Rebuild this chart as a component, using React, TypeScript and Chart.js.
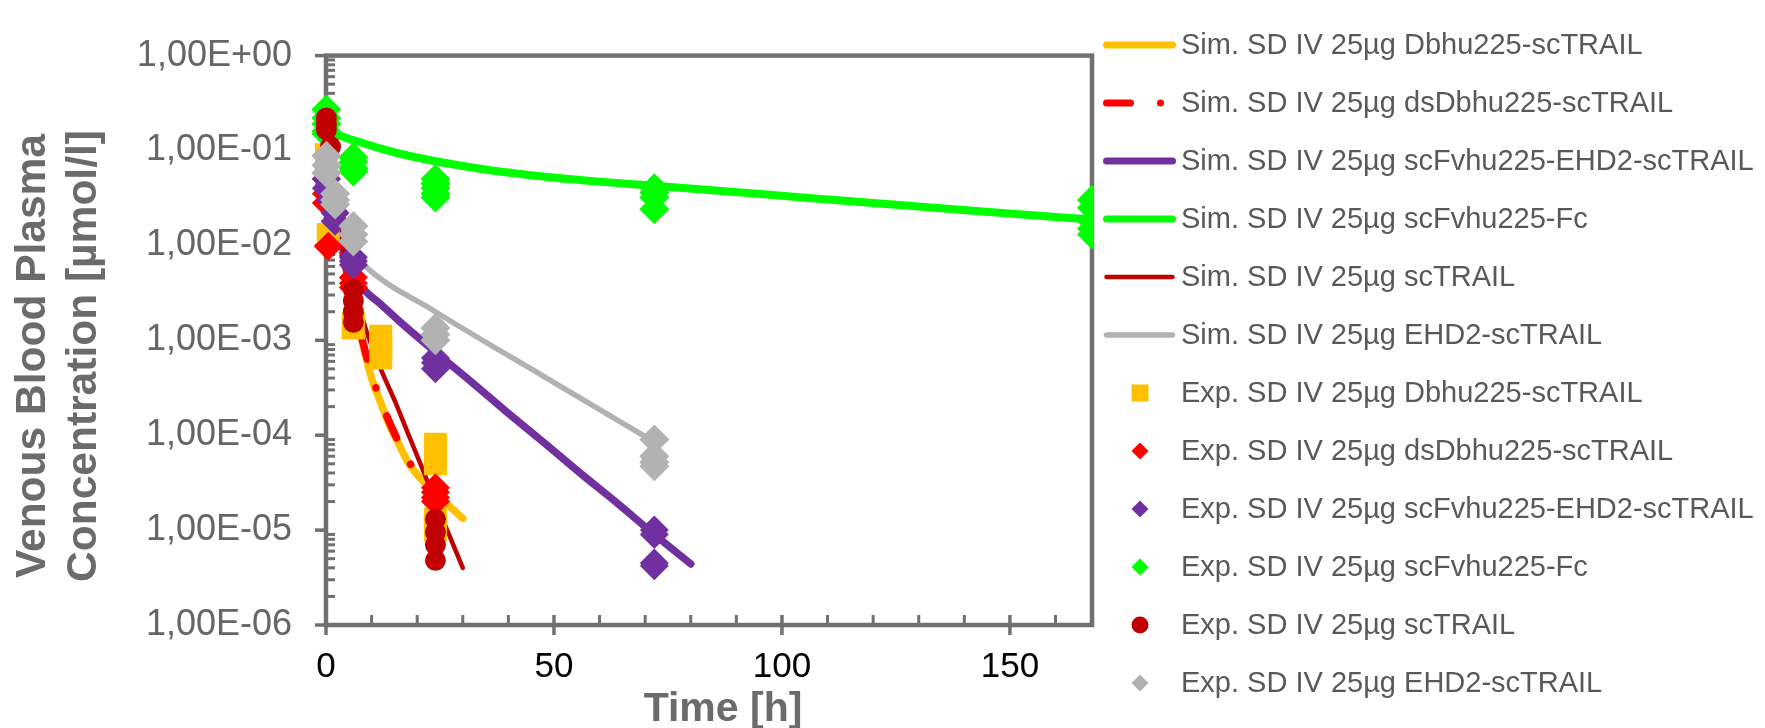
import React, { useEffect, useRef } from 'react';
import { Chart, registerables } from 'chart.js';

Chart.register(...registerables);

const FONT = '"Liberation Sans", Arial, Helvetica, sans-serif';

// ---------- labels ----------
const seriesLabels = [
  'Sim. SD IV 25µg Dbhu225-scTRAIL',
  'Sim. SD IV 25µg dsDbhu225-scTRAIL',
  'Sim. SD IV 25µg scFvhu225-EHD2-scTRAIL',
  'Sim. SD IV 25µg scFvhu225-Fc',
  'Sim. SD IV 25µg scTRAIL',
  'Sim. SD IV 25µg EHD2-scTRAIL',
  'Exp. SD IV 25µg Dbhu225-scTRAIL',
  'Exp. SD IV 25µg dsDbhu225-scTRAIL',
  'Exp. SD IV 25µg scFvhu225-EHD2-scTRAIL',
  'Exp. SD IV 25µg scFvhu225-Fc',
  'Exp. SD IV 25µg scTRAIL',
  'Exp. SD IV 25µg EHD2-scTRAIL',
];

const xTickValues = [0, 50, 100, 150];
const xMinorTicks = [10, 20, 30, 40, 60, 70, 80, 90, 110, 120, 130, 140, 160];
const yTickValues = [1e-6, 1e-5, 1e-4, 1e-3, 1e-2, 1e-1, 1];
const yMinorMultipliers = [2, 3, 4, 5, 6, 7, 8, 9];

// ---------- simulated curves ----------
const simDbhuT = [0, 0.5, 1, 2, 3, 4, 5, 6, 7, 8, 10, 12, 14, 16, 18, 21, 24, 27, 30];
const simDbhuV = [0.07, 0.05, 0.038, 0.022, 0.013, 0.0075, 0.0045, 0.0028, 0.0017, 0.00095, 0.0004, 0.00022, 0.000125, 0.00008, 0.000052, 0.000034, 0.000025, 0.000018, 0.0000133];

const simDsDbhuT = [0, 0.5, 1, 2, 3, 4, 5, 6, 7, 8, 9, 10, 12, 15, 18, 21, 24];
const simDsDbhuV = [0.06, 0.045, 0.034, 0.02, 0.012, 0.007, 0.0042, 0.0026, 0.0016, 0.001, 0.00065, 0.00044, 0.00023, 0.000105, 0.000055, 0.000032, 0.000021];

const simEhdFvT = [0, 0.5, 1, 2, 3, 4, 5, 6, 8, 12, 16, 24, 32, 40, 48, 56, 64, 72, 80];
const simEhdFvV = [0.05, 0.036, 0.027, 0.017, 0.0115, 0.0085, 0.0066, 0.0054, 0.0036, 0.0024, 0.0016, 0.00075, 0.00036, 0.00017, 0.000082, 0.000039, 0.000019, 0.000009, 0.0000044];

const simFcT = [0, 0.5, 1, 2, 4, 8, 12, 16, 24, 36, 48, 60, 72, 96, 120, 144, 168];
const simFcV = [0.19, 0.17, 0.16, 0.15, 0.138, 0.12, 0.105, 0.093, 0.077, 0.062, 0.053, 0.047, 0.0425, 0.0345, 0.028, 0.0228, 0.0187];

const simTrailT = [0, 0.5, 1, 2, 3, 4, 5, 6, 7, 8, 9, 12, 15, 18, 21, 24, 27, 30];
const simTrailV = [0.2, 0.11, 0.065, 0.028, 0.014, 0.008, 0.0052, 0.0034, 0.0024, 0.0017, 0.0012, 0.0005, 0.000235, 0.000104, 0.000046, 0.00002, 0.0000089, 0.000004];

const simEhdT = [0, 1, 2, 4, 6, 8, 24, 48, 72];
const simEhdV = [0.09, 0.05, 0.03, 0.014, 0.0085, 0.0064, 0.002, 0.00041, 0.000085];

// ---------- experimental data ----------
const expDbhuT = [0.083, 0.083, 0.5, 6, 6, 12, 12, 12, 24, 24, 24, 24, 24];
const expDbhuV = [0.09, 0.055, 0.013, 0.0015, 0.00135, 0.0011, 0.00085, 0.00065, 0.00008, 0.000062, 0.00005, 0.000013, 0.00001];

const expDsDbhuT = [0.083, 0.083, 0.083, 0.5, 6, 6, 6, 24, 24, 24, 24];
const expDsDbhuV = [0.05, 0.035, 0.028, 0.0098, 0.0046, 0.004, 0.0036, 0.000028, 0.000025, 0.000022, 0.00002];

const expEhdFvT = [0.083, 0.083, 1, 2, 2, 6, 6, 6, 24, 24, 24, 72, 72, 72, 72];
const expEhdFvV = [0.05, 0.04, 0.03, 0.022, 0.018, 0.0075, 0.0068, 0.0062, 0.00065, 0.00058, 0.0005, 0.00001, 0.000009, 0.0000045, 0.0000042];

const expFcT = [0.083, 0.083, 0.083, 0.083, 0.083, 6, 6, 6, 6, 24, 24, 24, 24, 24, 72, 72, 72, 72, 168, 168, 168, 168, 168];
const expFcV = [0.27, 0.22, 0.19, 0.16, 0.15, 0.085, 0.075, 0.065, 0.06, 0.05, 0.045, 0.04, 0.035, 0.032, 0.04, 0.036, 0.032, 0.024, 0.03, 0.025, 0.018, 0.015, 0.013];

const expTrailT = [0.083, 0.083, 0.083, 1, 6, 6, 6, 6, 24, 24, 24, 24];
const expTrailV = [0.22, 0.19, 0.165, 0.11, 0.0034, 0.0026, 0.002, 0.00155, 0.000013, 0.0000095, 0.000007, 0.0000048];

const expEhdT = [0.083, 0.083, 0.083, 2, 2, 2, 6, 6, 6, 24, 24, 24, 72, 72, 72, 72];
const expEhdV = [0.088, 0.07, 0.058, 0.035, 0.03, 0.027, 0.016, 0.013, 0.011, 0.00135, 0.00115, 0.001, 0.00009, 0.00006, 0.000052, 0.000047];

// ---------- styles ----------
const YELLOW = '#FFC000';
const RED = '#FF0000';
const PURPLE = '#7030A0';
const GREEN = '#00FF00';
const DARKRED = '#C00000';
const GRAY = '#B2B2B2';
const AXIS = '#707070';

const pts = (ts: number[], vs: number[]) => ts.map((t, i) => ({ x: t, y: vs[i] }));

const CLIP = { left: 40, top: 40, right: 2, bottom: 40 };

function simDs(label: string, ts: number[], vs: number[], color: string, width: number, order: number, dash: number[] = []) {
  return {
    label,
    data: pts(ts, vs),
    showLine: true,
    borderColor: color,
    backgroundColor: color,
    borderWidth: width,
    borderDash: dash,
    borderCapStyle: 'round',
    borderJoinStyle: 'round',
    cubicInterpolationMode: 'monotone',
    pointRadius: 0,
    pointHoverRadius: 0,
    fill: false,
    order,
    clip: CLIP,
  };
}

function expDs(label: string, ts: number[], vs: number[], color: string, style: string, radius: number, order: number) {
  return {
    label,
    data: pts(ts, vs),
    showLine: false,
    pointStyle: style,
    pointRadius: radius,
    pointHoverRadius: radius,
    pointBackgroundColor: color,
    pointBorderColor: color,
    pointBorderWidth: 0,
    backgroundColor: color,
    borderColor: color,
    order,
    clip: CLIP,
  };
}

function fmtSci(v: number) {
  const e = Math.round(Math.log10(v));
  const m = v / Math.pow(10, e);
  const sign = e < 0 ? '-' : '+';
  return m.toFixed(2).replace('.', ',') + 'E' + sign + String(Math.abs(e)).padStart(2, '0');
}

const framePlugin = {
  id: 'frameTicks',
  beforeDatasetsDraw(chart: any) {
    const { ctx, chartArea } = chart;
    const { left, right, top, bottom } = chartArea;
    const xs = chart.scales.x;
    const ys = chart.scales.y;
    ctx.save();
    ctx.strokeStyle = AXIS;
    ctx.lineCap = 'butt';
    ctx.lineWidth = 3;
    for (let d = -6; d < 0; d++) {
      for (const m of yMinorMultipliers) {
        const py = ys.getPixelForValue(m * Math.pow(10, d));
        ctx.beginPath();
        ctx.moveTo(left, py);
        ctx.lineTo(left + 9, py);
        ctx.stroke();
      }
    }
    ctx.lineWidth = 3.5;
    for (const v of yTickValues) {
      const py = ys.getPixelForValue(v);
      ctx.beginPath();
      ctx.moveTo(left - 11, py);
      ctx.lineTo(left, py);
      ctx.stroke();
    }
    ctx.lineWidth = 3;
    for (const v of xMinorTicks) {
      const px = xs.getPixelForValue(v);
      ctx.beginPath();
      ctx.moveTo(px, bottom);
      ctx.lineTo(px, bottom - 10);
      ctx.stroke();
    }
    ctx.lineWidth = 3.5;
    for (const v of xTickValues) {
      const px = xs.getPixelForValue(v);
      ctx.beginPath();
      ctx.moveTo(px, bottom - 10);
      ctx.lineTo(px, bottom + 10);
      ctx.stroke();
    }
    ctx.lineWidth = 4.5;
    ctx.strokeRect(left, top, right - left, bottom - top);
    ctx.restore();
  },
};

const decorPlugin = {
  id: 'decor',
  afterDraw(chart: any) {
    const { ctx } = chart;
    ctx.save();
    ctx.fillStyle = '#6B6B6B';
    ctx.font = `bold 41px ${FONT}`;
    ctx.textAlign = 'center';
    ctx.textBaseline = 'alphabetic';
    ctx.fillText('Time [h]', 723, 721);

    ctx.save();
    ctx.font = `bold 42.5px ${FONT}`;
    ctx.translate(0, 356);
    ctx.rotate(-Math.PI / 2);
    ctx.textBaseline = 'middle';
    ctx.fillText('Venous Blood Plasma', 0, 33);
    ctx.fillText('Concentration [µmol/l]', 0, 84);
    ctx.restore();

    const datasets = chart.data.datasets;
    ctx.font = `29px ${FONT}`;
    ctx.textAlign = 'left';
    ctx.textBaseline = 'middle';
    datasets.forEach((ds: any, i: number) => {
      const y = 45 + 58 * i;
      if (ds.showLine) {
        ctx.save();
        ctx.strokeStyle = ds.borderColor;
        ctx.lineWidth = Math.min(ds.borderWidth, 7);
        ctx.lineCap = 'round';
        ctx.setLineDash(ds.borderDash || []);
        ctx.beginPath();
        ctx.moveTo(1106.5, y);
        ctx.lineTo(1172.5, y);
        ctx.stroke();
        ctx.restore();
      } else {
        const cx = 1140;
        const s = 8.5;
        ctx.fillStyle = ds.pointBackgroundColor;
        ctx.beginPath();
        if (ds.pointStyle === 'rect') {
          ctx.rect(cx - s, y - s, 2 * s, 2 * s);
        } else if (ds.pointStyle === 'circle') {
          ctx.arc(cx, y, s, 0, Math.PI * 2);
        } else {
          ctx.moveTo(cx - s, y);
          ctx.lineTo(cx, y - s);
          ctx.lineTo(cx + s, y);
          ctx.lineTo(cx, y + s);
          ctx.closePath();
        }
        ctx.fill();
      }
      ctx.fillStyle = '#595959';
      ctx.fillText(ds.label, 1181, y + 1);
    });
    ctx.restore();
  },
};

export default function App() {
  const ref = useRef<HTMLCanvasElement>(null);

  useEffect(() => {
    const canvas = ref.current;
    if (!canvas) return;
    const datasets: any[] = [
      simDs(seriesLabels[0], simDbhuT, simDbhuV, YELLOW, 7.5, 11),
      simDs(seriesLabels[1], simDsDbhuT, simDsDbhuV, RED, 7.5, 10, [24, 30, 0.01, 30]),
      simDs(seriesLabels[2], simEhdFvT, simEhdFvV, PURPLE, 7.5, 9),
      simDs(seriesLabels[3], simFcT, simFcV, GREEN, 8, 8),
      simDs(seriesLabels[4], simTrailT, simTrailV, DARKRED, 4.5, 7),
      simDs(seriesLabels[5], simEhdT, simEhdV, GRAY, 5.5, 6),
      expDs(seriesLabels[6], expDbhuT, expDbhuV, YELLOW, 'rect', 16.3, 5),
      expDs(seriesLabels[7], expDsDbhuT, expDsDbhuV, RED, 'rectRot', 14.5, 4),
      expDs(seriesLabels[8], expEhdFvT, expEhdFvV, PURPLE, 'rectRot', 14.5, 3),
      expDs(seriesLabels[9], expFcT, expFcV, GREEN, 'rectRot', 15, 2),
      expDs(seriesLabels[10], expTrailT, expTrailV, DARKRED, 'circle', 10.5, 1),
      expDs(seriesLabels[11], expEhdT, expEhdV, GRAY, 'rectRot', 15, 0),
    ];

    const chart = new Chart(canvas, {
      type: 'scatter',
      data: { datasets },
      options: {
        responsive: false,
        animation: false,
        devicePixelRatio: 1,
        events: [],
        layout: { padding: { left: 0, top: 29, right: 673, bottom: 0 } },
        plugins: {
          legend: { display: false },
          tooltip: { enabled: false },
          title: { display: false },
        },
        scales: {
          x: {
            type: 'linear',
            position: 'bottom',
            min: 0,
            max: 168,
            grid: { display: false, drawTicks: false },
            border: { display: false },
            afterBuildTicks: (s: any) => {
              s.ticks = xTickValues.map((v) => ({ value: v }));
            },
            afterFit: (s: any) => {
              s.height = 103;
            },
            ticks: {
              color: '#000000',
              font: { family: FONT, size: 35 },
              padding: 21,
              maxRotation: 0,
              autoSkip: false,
              callback: (v: any) => String(v),
            },
          },
          y: {
            type: 'logarithmic',
            position: 'left',
            min: 1e-6,
            max: 1,
            grid: { display: false, drawTicks: false },
            border: { display: false },
            afterBuildTicks: (s: any) => {
              s.ticks = yTickValues.map((v) => ({ value: v }));
            },
            afterFit: (s: any) => {
              s.width = 326;
            },
            ticks: {
              color: '#666666',
              font: { family: FONT, size: 36 },
              padding: 34,
              autoSkip: false,
              callback: (v: any) => fmtSci(Number(v)),
            },
          },
        },
      } as any,
      plugins: [framePlugin, decorPlugin],
    } as any);

    return () => chart.destroy();
  }, []);

  return (
    <div style={{ position: 'fixed', left: 0, top: 0, width: 1765, height: 728, background: '#ffffff' }}>
      <canvas ref={ref} width={1765} height={728} style={{ display: 'block', width: 1765, height: 728 }} />
    </div>
  );
}
